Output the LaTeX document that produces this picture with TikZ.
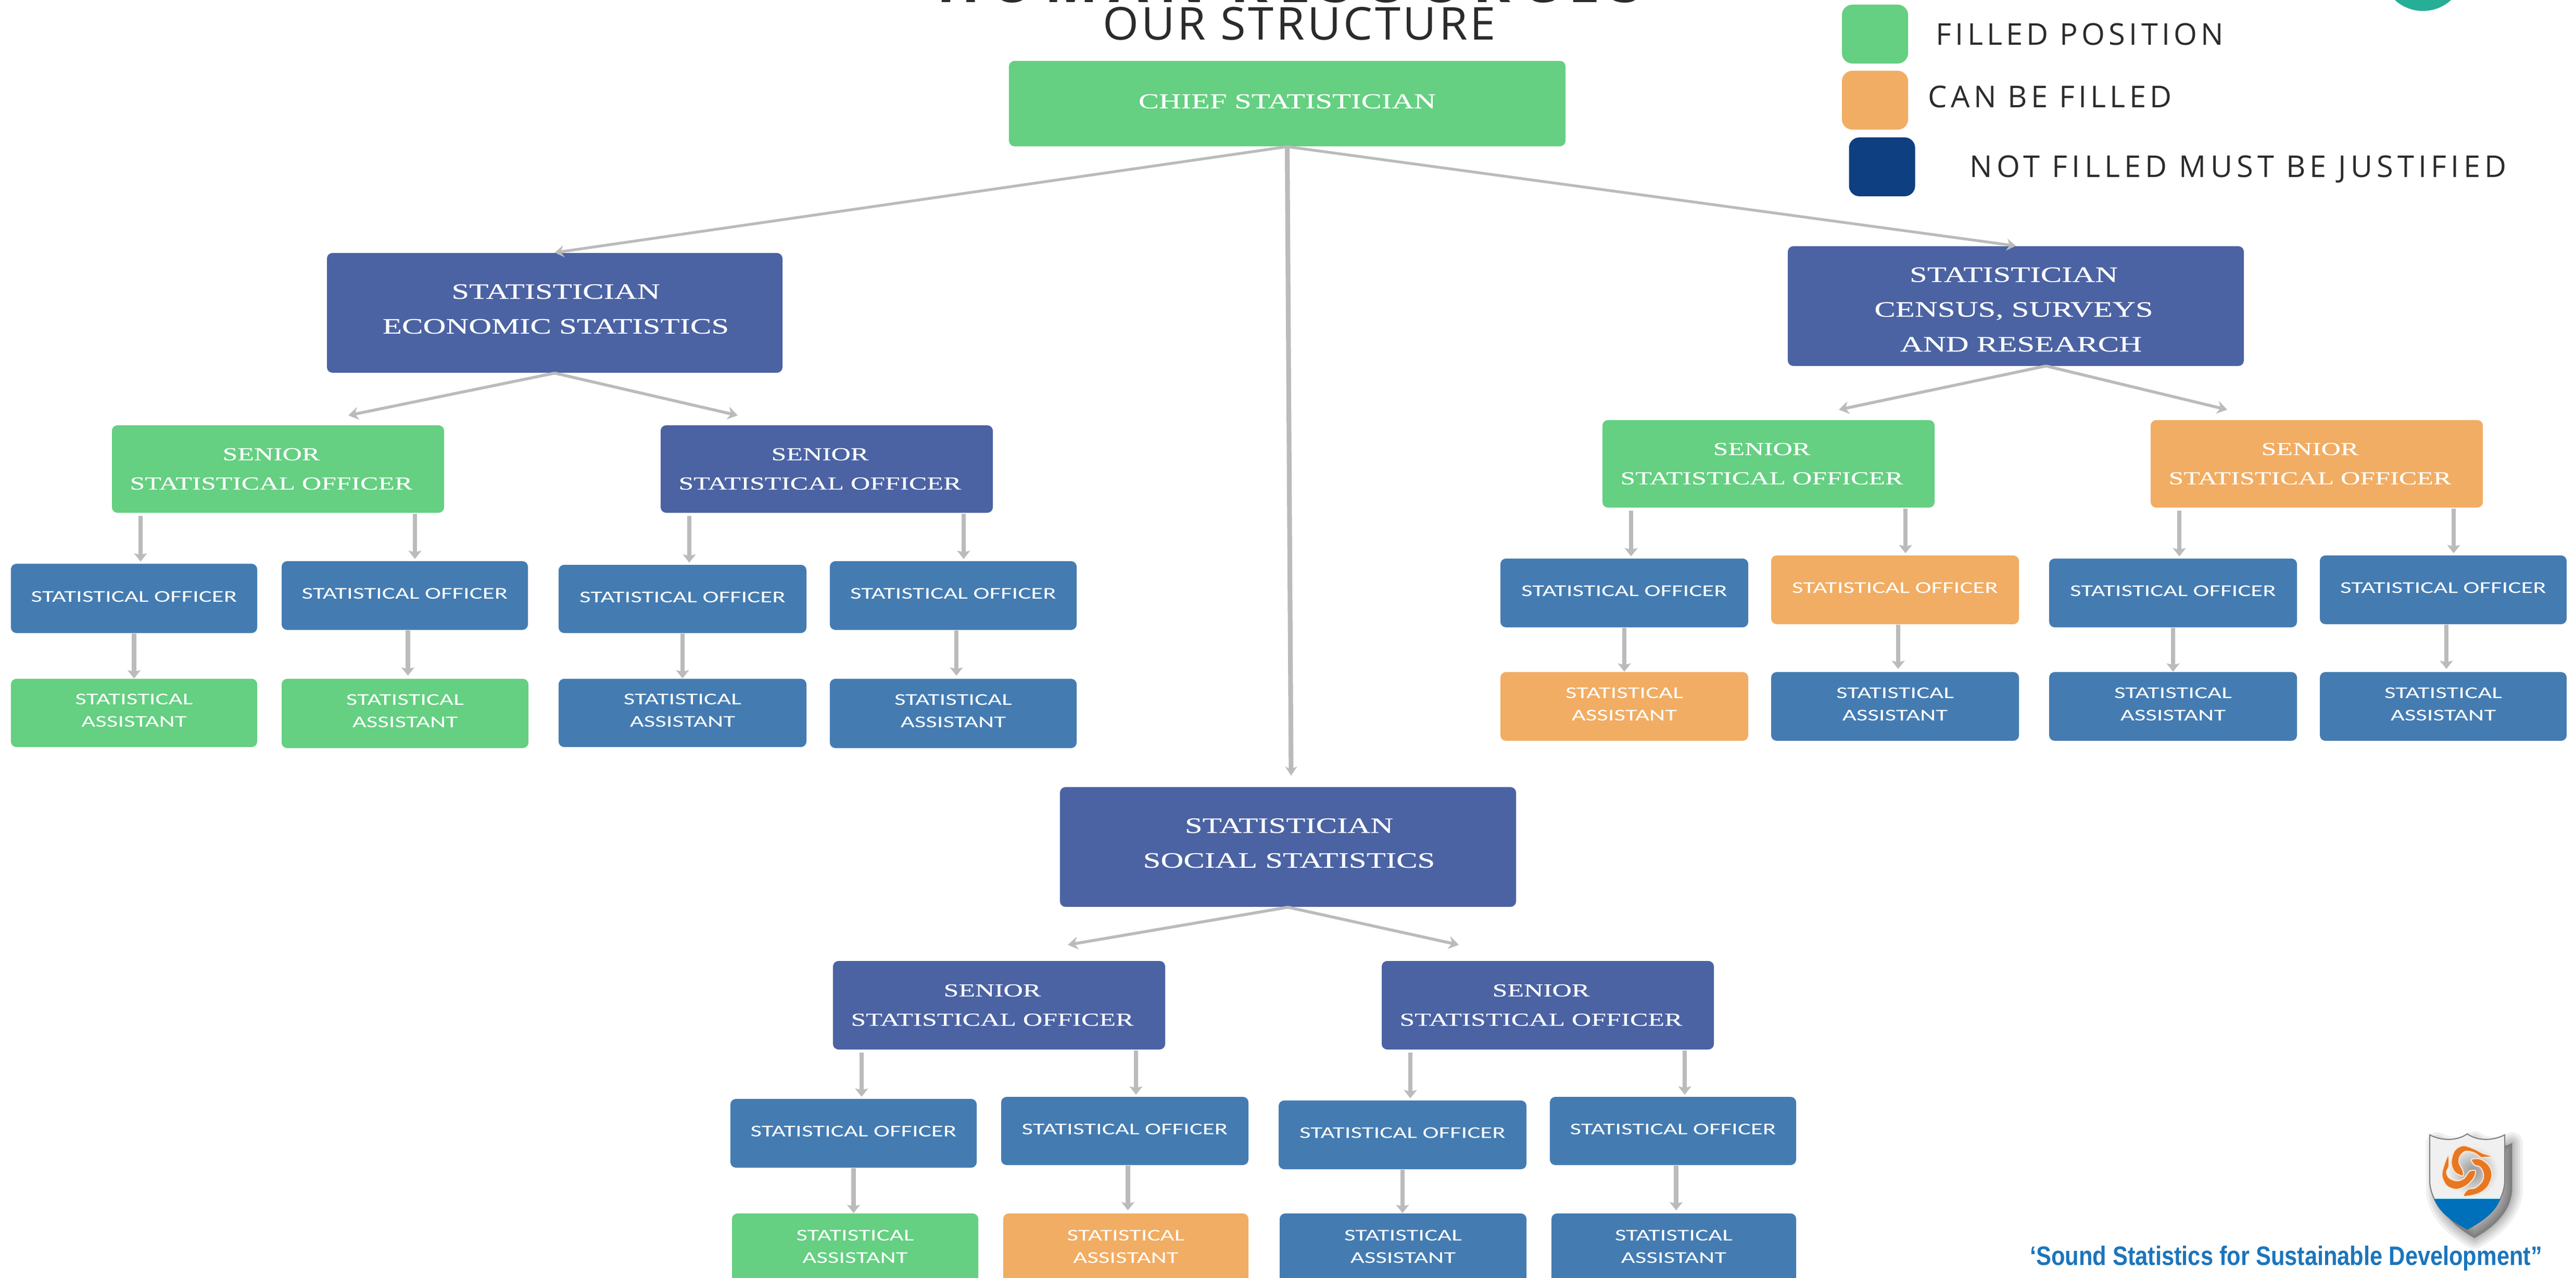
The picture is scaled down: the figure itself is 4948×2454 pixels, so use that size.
\documentclass[tikz,border=0pt]{standalone}
\usepackage{fontspec}
\setmainfont{Liberation Serif}
\usetikzlibrary{arrows.meta,calc}
\newfontfamily\serifw[FakeStretch=1.44,FakeBold=0.35]{Liberation Serif}
\newfontfamily\serifs[FakeStretch=1.47,FakeBold=0.35]{Liberation Serif}
\newfontfamily\calw[FakeStretch=1.48]{Carlito}
\newfontfamily\legendfont[LetterSpace=12.5]{Open Sans}
\newfontfamily\legendwide[LetterSpace=14.2]{Open Sans}
\newfontfamily\headfont[FakeStretch=1.02,LetterSpace=5.5]{Open Sans}
\newfontfamily\topfont[LetterSpace=19]{Open Sans}
\newfontfamily\slogfont[FakeStretch=0.845]{Liberation Sans}
\definecolor{gfill}{HTML}{65CF82}
\definecolor{ofill}{HTML}{F1AD63}
\definecolor{nfill}{HTML}{4B63A3}
\definecolor{bfill}{HTML}{447CB2}
\definecolor{navy}{HTML}{0E3F80}
\definecolor{teal}{HTML}{26AE96}
\definecolor{conn}{HTML}{BBBBBB}
\definecolor{ink}{HTML}{2B2B2B}
\definecolor{slog}{HTML}{1B75BC}
\definecolor{fish}{HTML}{E87722}
\definecolor{water}{HTML}{0070BA}
\newcommand\shifted[3]{\makebox[0pt]{\hspace*{\dimexpr 0.02cm*#1\relax}\raisebox{\dimexpr 0.01cm*#2-0.25em-0.03cm\relax}[0pt][0pt]{\begin{tabular}{@{}c@{}}#3\end{tabular}}}}
\newcommand\chieftext[1]{\serifw\fontsize{11.6}{19}\selectfont\shifted{0}{7}{#1}}
\newcommand\stattext[1]{\serifw\fontsize{12}{19}\selectfont\shifted{2}{10}{#1}}
\newcommand\censustext[1]{\serifw\fontsize{12}{19}\selectfont\shifted{-4}{-4}{#1}}
\newcommand\seniortext[1]{\serifs\fontsize{10}{16}\selectfont\shifted{-13}{3}{#1}}
\newcommand\sotext[1]{\calw\fontsize{9}{12.3}\selectfont\shifted{0}{5}{#1}}
\newcommand\satext[1]{\calw\fontsize{9}{12.3}\selectfont\shifted{0}{6}{#1}}
\tikzset{
  orgbox/.style={rectangle,rounded corners=3pt,draw=none,inner sep=0pt,text=white},
  legendbox/.style={rectangle,rounded corners=5.7pt,inner sep=0pt},
  legendtext/.style={anchor=base west,inner sep=0pt,text=ink,font=\legendfont\fontsize{16.4}{20}\selectfont},
  longarrow/.style={draw=conn,line width=1.5pt,-{Stealth[width=6.5pt,length=5pt]}},
  midarrow/.style={draw=conn,line width=1.6pt,-{Stealth[width=7pt,length=5.5pt]}},
  droparrow/.style={draw=conn,line width=2.4pt,-{Stealth[width=7pt,length=4.5pt,inset=0.8pt]}},
  fishbody/.style={fill=fish,draw=white!80!fish,line width=0.6pt,line join=round},
}
% name x1 y1 x2 y2 options text
\newcommand\place[7]{\node[orgbox,#6,minimum width={(#4-#2)*0.01cm},minimum height={(#5-#3)*0.01cm}] (#1) at ({(#2+#4)/2},{(#3+#5)/2}) {#7};}
\newcommand\sdrop[4]{\path ($(#1.south)+(#3,#4)$) coordinate (p); \draw[droparrow,shorten >=1pt] (p) -- (p |- #2.north);}
\newcommand\sodrop[4]{\path ($(#1.south)+(#3,0)$) coordinate (p); \draw[droparrow,shorten >=#4] (p) -- (p |- #2.north);}
\newcommand\shieldpath{(4667,2180) .. controls (4690,2192) and (4720,2192) .. (4739,2178) .. controls (4758,2192) and (4788,2192) .. (4811,2180) -- (4811,2270) .. controls (4809,2310) and (4778,2340) .. (4739,2362) .. controls (4700,2340) and (4669,2310) .. (4667,2270) -- cycle}
\begin{document}
\begin{tikzpicture}[x=0.01cm,y=-0.01cm]
\useasboundingbox (0,0) rectangle (4948,2454);
\clip (0,0) rectangle (4948,2454);
\fill[white] (0,0) rectangle (4948,2454);

% header
\node[anchor=base,inner sep=0pt,text=ink,font=\topfont\bfseries\fontsize{31}{36}\selectfont] (toptitle) at (2477,4) {HUMAN RESOURCES};
\node[anchor=base,inner sep=0pt,text=ink,font=\headfont\fontsize{24.7}{30}\selectfont] (head) at (2496,76) {OUR STRUCTURE};

% legend
\node[legendbox,fill=gfill,minimum width=1.27cm,minimum height=1.13cm] (lg) at (3601.5,65.5) {};
\node[legendbox,fill=ofill,minimum width=1.27cm,minimum height=1.13cm] (lo) at (3601.5,192.5) {};
\node[legendbox,fill=navy,minimum width=1.27cm,minimum height=1.13cm] (ln) at (3615,320.5) {};
\node[legendtext] (tg) at (3718,86) {FILLED POSITION};
\node[legendtext] (to) at (3703,206) {CAN BE FILLED};
\node[legendtext,font=\legendwide\fontsize{16.4}{20}\selectfont] (tn) at (3783,340) {NOT FILLED MUST BE JUSTIFIED};
\fill[teal] (4654,-59) circle (80);

% top levels
\place{chief}{1938}{117}{3007}{281}{fill=gfill}{\chieftext{CHIEF STATISTICIAN}}
\place{econ}{628}{486}{1503}{716}{fill=nfill}{\stattext{STATISTICIAN\\ECONOMIC STATISTICS}}
\place{census}{3434}{473}{4310}{703}{fill=nfill}{\censustext{STATISTICIAN\\CENSUS, SURVEYS\\\hspace*{0.28cm}AND RESEARCH}}
\place{social}{2036}{1512}{2912}{1742}{fill=nfill}{\stattext{STATISTICIAN\\SOCIAL STATISTICS}}

% senior officers
\place{s1}{215}{817}{853}{985}{fill=gfill}{\seniortext{SENIOR\\STATISTICAL OFFICER}}
\place{s2}{1269}{817}{1907}{985}{fill=nfill}{\seniortext{SENIOR\\STATISTICAL OFFICER}}
\place{s3}{3078}{807}{3716}{975}{fill=gfill}{\seniortext{SENIOR\\STATISTICAL OFFICER}}
\place{s4}{4131}{807}{4769}{975}{fill=ofill}{\seniortext{SENIOR\\STATISTICAL OFFICER}}
\place{s5}{1600}{1846}{2238}{2016}{fill=nfill}{\seniortext{SENIOR\\STATISTICAL OFFICER}}
\place{s6}{2654}{1846}{3292}{2016}{fill=nfill}{\seniortext{SENIOR\\STATISTICAL OFFICER}}

% statistical officers
\place{o1}{21}{1083}{494}{1216}{fill=bfill}{\sotext{STATISTICAL OFFICER}}
\place{o2}{541}{1078}{1014}{1210}{fill=bfill}{\sotext{STATISTICAL OFFICER}}
\place{o3}{1073}{1085}{1549}{1216}{fill=bfill}{\sotext{STATISTICAL OFFICER}}
\place{o4}{1594}{1078}{2068}{1210}{fill=bfill}{\sotext{STATISTICAL OFFICER}}
\place{o5}{2882}{1073}{3358}{1205}{fill=bfill}{\sotext{STATISTICAL OFFICER}}
\place{o6}{3402}{1067}{3878}{1199}{fill=ofill}{\sotext{STATISTICAL OFFICER}}
\place{o7}{3936}{1073}{4412}{1205}{fill=bfill}{\sotext{STATISTICAL OFFICER}}
\place{o8}{4456}{1067}{4930}{1199}{fill=bfill}{\sotext{STATISTICAL OFFICER}}
\place{o9}{1403}{2111}{1876}{2243}{fill=bfill}{\sotext{STATISTICAL OFFICER}}
\place{o10}{1923}{2107}{2398}{2238}{fill=bfill}{\sotext{STATISTICAL OFFICER}}
\place{o11}{2456}{2114}{2932}{2246}{fill=bfill}{\sotext{STATISTICAL OFFICER}}
\place{o12}{2977}{2107}{3450}{2238}{fill=bfill}{\sotext{STATISTICAL OFFICER}}

% statistical assistants
\place{a1}{21}{1304}{494}{1435}{fill=gfill}{\satext{STATISTICAL\\ASSISTANT}}
\place{a2}{541}{1304}{1015}{1437}{fill=gfill}{\satext{STATISTICAL\\ASSISTANT}}
\place{a3}{1073}{1304}{1549}{1435}{fill=bfill}{\satext{STATISTICAL\\ASSISTANT}}
\place{a4}{1594}{1304}{2068}{1437}{fill=bfill}{\satext{STATISTICAL\\ASSISTANT}}
\place{a5}{2882}{1291}{3358}{1423}{fill=ofill}{\satext{STATISTICAL\\ASSISTANT}}
\place{a6}{3402}{1291}{3878}{1423}{fill=bfill}{\satext{STATISTICAL\\ASSISTANT}}
\place{a7}{3936}{1291}{4412}{1423}{fill=bfill}{\satext{STATISTICAL\\ASSISTANT}}
\place{a8}{4456}{1291}{4930}{1423}{fill=bfill}{\satext{STATISTICAL\\ASSISTANT}}
\place{a9}{1406}{2331}{1879}{2468}{fill=gfill}{\satext{STATISTICAL\\ASSISTANT}}
\place{a10}{1927}{2331}{2398}{2468}{fill=ofill}{\satext{STATISTICAL\\ASSISTANT}}
\place{a11}{2458}{2331}{2932}{2468}{fill=bfill}{\satext{STATISTICAL\\ASSISTANT}}
\place{a12}{2980}{2331}{3450}{2468}{fill=bfill}{\satext{STATISTICAL\\ASSISTANT}}

% free ends of the slanted connectors
\coordinate (e1) at (669,798);
\coordinate (e2) at (1417,798);
\coordinate (e3) at (3532,787);
\coordinate (e4) at (4278,787);
\coordinate (e5) at (2051,1815);
\coordinate (e6) at (2802,1815);
\coordinate (socialend) at (2480,1490);
\coordinate (censusfoot) at (3930,703);

% connectors
\draw[longarrow] (chief.south) -- (econ.north);
\draw[longarrow] (chief.south) -- (census.north);
\draw[draw=conn,line width=2.6pt,-{Stealth[width=6.5pt,length=5pt]}] (chief.south) -- (socialend);
\draw[midarrow] (econ.south) -- (e1);
\draw[midarrow] (econ.south) -- (e2);
\draw[midarrow] (censusfoot) -- (e3);
\draw[midarrow] (censusfoot) -- (e4);
\draw[midarrow] (social.south) -- (e5);
\draw[midarrow] (social.south) -- (e6);

\sdrop{s1}{o1}{-264}{5}\sdrop{s1}{o2}{263}{1}
\sdrop{s2}{o3}{-264}{5}\sdrop{s2}{o4}{263}{1}
\sdrop{s3}{o5}{-264}{5}\sdrop{s3}{o6}{263}{1}
\sdrop{s4}{o7}{-264}{5}\sdrop{s4}{o8}{263}{1}
\sdrop{s5}{o9}{-264}{5}\sdrop{s5}{o10}{263}{1}
\sdrop{s6}{o11}{-264}{5}\sdrop{s6}{o12}{263}{1}

\sodrop{o1}{a1}{0}{0pt}\sodrop{o2}{a2}{6}{1.5pt}
\sodrop{o3}{a3}{0}{0pt}\sodrop{o4}{a4}{6}{1.5pt}
\sodrop{o5}{a5}{0}{0pt}\sodrop{o6}{a6}{6}{1.5pt}
\sodrop{o7}{a7}{0}{0pt}\sodrop{o8}{a8}{6}{1.5pt}
\sodrop{o9}{a9}{0}{0pt}\sodrop{o10}{a10}{6}{1.5pt}
\sodrop{o11}{a11}{0}{0pt}\sodrop{o12}{a12}{6}{1.5pt}

% slogan
\node[anchor=base,inner sep=0pt,text=slog,font=\slogfont\bfseries\fontsize{14.6}{18}\selectfont] (slogan) at (4391,2430) {‘Sound Statistics for Sustainable Development”};

% shield logo
\begin{scope}[shift={(14,16)}]
\foreach \w in {12,9,6.5,4,2,0.5}{
  \draw[black,opacity=0.06,line width=\w pt,line join=round,fill=black,fill opacity=0.06] \shieldpath;
}
\end{scope}
\fill[white!94!black] \shieldpath;
\begin{scope}
\clip \shieldpath;
\shade[inner color=black!42,outer color=white!94!black] (4750,2250) circle (48);
\end{scope}
\draw[black!50,line width=0.6pt] \shieldpath;
\fill[water] (4675,2303) -- (4803,2303) .. controls (4790,2335) and (4760,2350) .. (4739,2362) .. controls (4718,2350) and (4688,2335) .. (4675,2303) -- cycle;
\draw[blue!20!cyan!25!white,line width=0.7pt] (4676,2302) -- (4802,2302);
\begin{scope}[shift={(4640,2170)},x=0.00333cm,y=-0.00333cm]
\path[fishbody] plot[smooth cycle,tension=0.55] coordinates {(272,268) (225,245) (205,190) (225,120) (275,92) (340,112) (385,135) (442,155) (400,160) (375,160) (340,135) (290,125) (258,150) (250,190) (272,235)};
\path[fishbody] plot[smooth cycle,tension=0.55] coordinates {(322,172) (375,170) (425,210) (440,265) (415,330) (360,370) (277,385) (300,345) (345,335) (385,295) (390,250) (370,215) (340,205)};
\path[fishbody] plot[smooth cycle,tension=0.55] coordinates {(345,237) (335,280) (290,325) (235,345) (180,325) (152,270) (160,215) (188,147) (192,210) (178,245) (195,280) (240,295) (280,280) (310,240)};
\end{scope}
\end{tikzpicture}
\end{document}
